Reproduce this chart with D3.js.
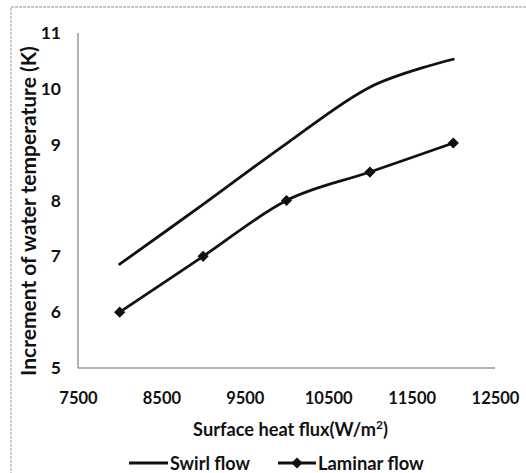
<!DOCTYPE html>
<html><head><meta charset="utf-8">
<script src="https://cdn.jsdelivr.net/npm/d3@7"></script>
<style>body{margin:0;background:#fff}svg{display:block}</style></head>
<body><svg id="c" width="526" height="473"></svg>
<script>
const heatFlux = [8000, 9000, 10000, 11000, 12000];
const swirlFlow = [6.86, 7.93, 9.02, 10.03, 10.53];
const laminarFlow = [6, 7, 8, 8.51, 9.03];
const xTicks = [7500, 8500, 9500, 10500, 11500, 12500];
const yTicks = [5, 6, 7, 8, 9, 10, 11];
const seriesNames = ["Swirl flow", "Laminar flow"];
const xTitle = "Surface heat flux(W/m";
const yTitle = "Increment of water temperature (K)";

const svg = d3.select("#c");
const FONT = "Lato, 'Open Sans', sans-serif";
svg.append("rect").attr("width",526).attr("height",473).attr("fill","#fff");
// outer frame
svg.append("rect").attr("x",11).attr("y",7).attr("width",600).attr("height",600)
  .attr("fill","none").attr("stroke","#b8b8b8").attr("stroke-width",1.3).attr("stroke-dasharray","3,1");

const x = d3.scaleLinear().domain([7500,12500]).range([78,495]);
const y = d3.scaleLinear().domain([5,11]).range([368,33]);

function fit(sel, w){
  let fs = parseFloat(sel.attr("font-size"));
  const len = sel.node().getComputedTextLength();
  sel.attr("font-size", (fs*w/len).toFixed(2));
}

// axes lines
svg.append("line").attr("x1",x(7500)).attr("x2",x(7500)).attr("y1",y(11)).attr("y2",y(5))
  .attr("stroke","#9a9a9a").attr("stroke-width",1.5);
svg.append("line").attr("x1",x(7500)).attr("x2",x(12500)).attr("y1",y(5)).attr("y2",y(5))
  .attr("stroke","#9a9a9a").attr("stroke-width",1.5);

// y tick labels
const yAxis = d3.axisLeft(y).tickValues(yTicks).tickSize(0).tickPadding(17).tickFormat(d3.format("d"));
const gy = svg.append("g").attr("transform",`translate(${x(7500)},0)`).call(yAxis);
gy.select(".domain").remove();
gy.selectAll("text").attr("font-family",FONT).attr("font-weight","bold").attr("font-size",17.5).attr("fill","#111");

const xAxis = d3.axisBottom(x).tickValues(xTicks).tickSize(0).tickPadding(24).tickFormat(d3.format("d"));
const gx = svg.append("g").attr("transform",`translate(0,${y(5)})`).call(xAxis);
gx.select(".domain").remove();
gx.selectAll("text").attr("font-family",FONT).attr("font-weight","bold").attr("font-size",16.5).attr("fill","#111");

// lines
const line = d3.line().x((d,i)=>x(heatFlux[i])).y(d=>y(d)).curve(d3.curveCardinal.tension(0));
svg.append("path").attr("d",line(swirlFlow)).attr("fill","none").attr("stroke","#111").attr("stroke-width",2.8).attr("stroke-linecap","round");
svg.append("path").attr("d",line(laminarFlow)).attr("fill","none").attr("stroke","#111").attr("stroke-width",2.8);
const diamond = d3.symbol().type(d3.symbolDiamond2).size(80);
svg.selectAll(".mk").data(laminarFlow).join("path").attr("class","mk")
  .attr("d",diamond).attr("transform",(d,i)=>`translate(${x(heatFlux[i])},${y(d)})`).attr("fill","#111");

// axis titles
const xt = svg.append("text").attr("x",290.5).attr("y",436).attr("text-anchor","middle")
  .attr("font-family",FONT).attr("font-weight","bold").attr("font-size",18).attr("fill","#111");
xt.append("tspan").text(xTitle);
xt.append("tspan").text("2").attr("dy",-7).attr("font-size",12);
xt.append("tspan").text(")").attr("dy",7);
{
  const w = xt.node().getComputedTextLength();
  const fs = 18*195/w;
  xt.attr("font-size",fs.toFixed(2));
  xt.selectAll("tspan").filter((d,i)=>i===1).attr("font-size",(fs*0.66).toFixed(2));
}
const yt = svg.append("text").attr("transform","translate(35.5,211) rotate(-90)").attr("text-anchor","middle")
  .attr("font-family",FONT).attr("font-weight","bold").attr("font-size",16).attr("fill","#111").text(yTitle);
fit(yt, 330);

// legend
const lg = svg.append("g");
lg.append("line").attr("x1",129).attr("x2",168).attr("y1",463).attr("y2",463).attr("stroke","#111").attr("stroke-width",2.8);
const t1 = lg.append("text").attr("x",170).attr("y",469.5).attr("font-family",FONT).attr("font-weight","bold")
  .attr("font-size",16).attr("fill","#111").text(seriesNames[0]);
fit(t1, 80);
lg.append("line").attr("x1",278).attr("x2",316).attr("y1",463).attr("y2",463).attr("stroke","#111").attr("stroke-width",2.8);
lg.append("path").attr("d",diamond).attr("transform","translate(297,463)").attr("fill","#111");
const t2 = lg.append("text").attr("x",318).attr("y",469.5).attr("font-family",FONT).attr("font-weight","bold")
  .attr("font-size",16).attr("fill","#111").text(seriesNames[1]);
fit(t2, 106);
</script></body></html>
